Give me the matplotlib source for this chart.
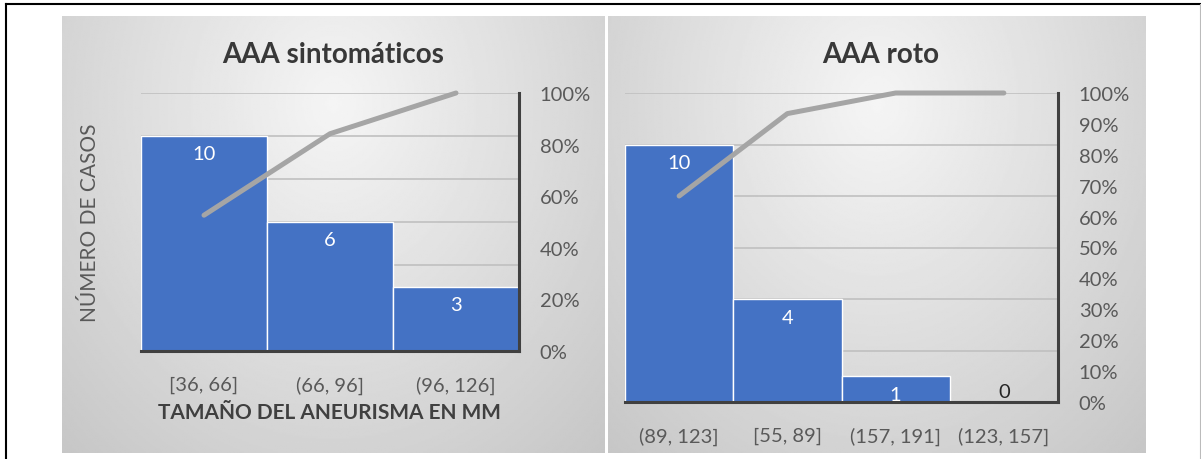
import numpy as np
import matplotlib
matplotlib.use('Agg')
import matplotlib.pyplot as plt
from matplotlib.lines import Line2D

plt.rcParams['font.family'] = ['Lato', 'DejaVu Sans']

# data
sint_labels = ['[36, 66]', '(66, 96]', '(96, 126]']
sint_counts = [10, 6, 3]
roto_labels = ['(89, 123]', '[55, 89]', '(157, 191]', '(123, 157]']
roto_counts = [10, 4, 1, 0]

W, H = 1201, 460
BAR = '#4472C4'
LINE = '#A5A5A5'
TXT = '#595959'
DARK = '#404040'


def fx(px):
    return px / W


def fy(py):
    return 1 - py / H


def panel_bg(fig, x0, x1, y0, y1):
    ax = fig.add_axes([fx(x0), fy(y1), fx(x1 - x0), (y1 - y0) / H], zorder=-5)
    u = np.linspace(0, 1, 300)
    w = np.linspace(0, 1, 300)
    U, V = np.meshgrid(u, w)
    d = np.sqrt(((U - 0.5) / 0.6) ** 2 + ((V - 0.2) / 0.9) ** 2)
    img = np.clip(0.96 - 0.15 * d, 0, 1)
    ax.imshow(img, cmap='gray', vmin=0, vmax=1, aspect='auto', extent=[0, 1, 1, 0])
    ax.axis('off')


def pareto(fig, rect, labels, counts, title, title_x, ylabel=None, xlabel=None, pct_step=0.2):
    x0, x1, y0, y1 = rect
    ax = fig.add_axes([fx(x0), fy(y1), fx(x1 - x0), (y1 - y0) / H])
    ax.set_facecolor('none')
    n = len(counts)
    xs = np.arange(n)
    ax.bar(xs, counts, width=1.0, color=BAR, edgecolor='white', linewidth=1, zorder=3)
    ax.set_xlim(-0.5, n - 0.5)
    ax.set_ylim(0, 12)
    ax.set_yticks(np.arange(0, 13, 2))
    ax.yaxis.grid(True, color='#C0C0C0', linewidth=1.2, zorder=0)
    ax.set_axisbelow(True)
    ax.set_xticks(xs)
    ax.set_xticklabels(labels, fontsize=14.5, color=TXT)
    ax.tick_params(axis='x', length=0, pad=18)
    for s in ['top', 'left', 'right']:
        ax.spines[s].set_visible(False)
    ax.spines['bottom'].set_color(DARK)
    ax.spines['bottom'].set_linewidth(2.2)
    ax.spines['bottom'].set_zorder(5)

    for xi, c in zip(xs, counts):
        if c > 0:
            ax.annotate(str(c), (xi, c), xytext=(0, -18), textcoords='offset pixels',
                        ha='center', va='center', color='white', fontsize=14.5, zorder=6)
        else:
            ax.annotate(str(c), (xi, c), xytext=(0, 11), textcoords='offset pixels',
                        ha='center', va='center', color='#262626', fontsize=14.5, zorder=6)

    cum = np.cumsum(counts) / np.sum(counts)
    ax2 = ax.twinx()
    ax2.plot(xs, cum, color=LINE, linewidth=3.6, solid_capstyle='round', zorder=4, clip_on=False)
    ax2.set_ylim(0, 1)
    ticks = np.arange(0, 1.0001, pct_step)
    ax2.set_yticks(ticks)
    ax2.set_yticklabels(['%d%%' % round(t * 100) for t in ticks], fontsize=14.5, color=TXT)
    ax2.tick_params(axis='y', length=0, pad=15)
    for s in ['top', 'left', 'bottom']:
        ax2.spines[s].set_visible(False)
    ax2.spines['right'].set_color(DARK)
    ax2.spines['right'].set_linewidth(2.2)
    # twinx turns the left ticks back on
    ax.tick_params(axis='y', left=False, labelleft=False, right=False, labelright=False)

    fig.text(fx(title_x), fy(55), title, ha='center', va='center',
             fontsize=20, color='#383838', fontweight='bold')
    if ylabel:
        fig.text(fx(90), fy((y0 + y1) / 2), ylabel, rotation=90, ha='center', va='center',
                 fontsize=15, color=TXT)
    if xlabel:
        fig.text(fx(329), fy(413), xlabel, ha='center', va='center',
                 fontsize=15, color=DARK, fontweight='bold')
    return ax


fig = plt.figure(figsize=(W / 100, H / 100), dpi=100)
fig.patch.set_facecolor('white')

panel_bg(fig, 62, 605, 17, 454)
panel_bg(fig, 608, 1145, 17, 454)

pareto(fig, (141, 519, 94, 352), sint_labels, sint_counts, 'AAA sintomáticos', 333,
       ylabel='NÚMERO DE CASOS', xlabel='TAMAÑO DEL ANEURISMA EN MM', pct_step=0.2)
pareto(fig, (625, 1058, 94, 403), roto_labels, roto_counts, 'AAA roto', 881, pct_step=0.1)

# outer frame
fig.add_artist(Line2D([fx(6), fx(1200)], [fy(5), fy(5)], color='black', linewidth=1.5))
fig.add_artist(Line2D([fx(6), fx(6)], [fy(5), 0], color='black', linewidth=1.5))
fig.add_artist(Line2D([fx(1199.5), fx(1199.5)], [fy(5), 0], color='#BBBBBB', linewidth=0.8))

fig.savefig('out.png', dpi=100)
